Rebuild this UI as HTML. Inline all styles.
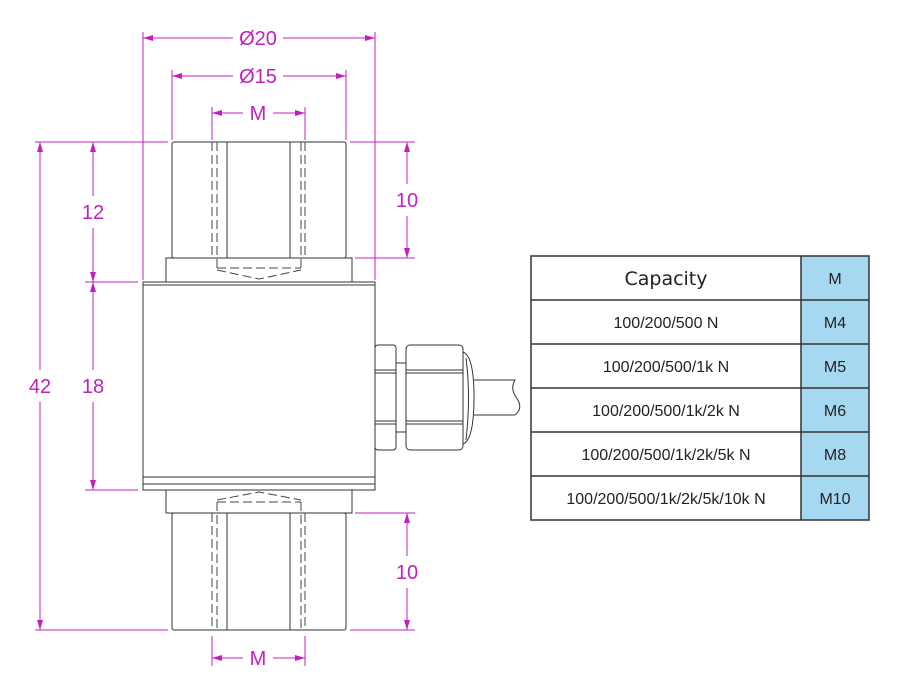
<!DOCTYPE html>
<html><head><meta charset="utf-8"><style>
html,body{margin:0;padding:0;background:#fff;width:900px;height:696px;overflow:hidden}
svg{display:block}
.m{stroke:#c020c0;stroke-width:1;fill:none}
.k{stroke:#333;stroke-width:1;fill:none}
.d{stroke:#444;stroke-width:1;fill:none;stroke-dasharray:9,4}
.t{font-family:"Liberation Sans",sans-serif;font-size:20px;fill:#c020c0;text-anchor:middle}
.tt{font-family:"Liberation Sans",sans-serif;font-size:16px;fill:#222;text-anchor:middle}
</style></head><body>
<svg width="900" height="696" viewBox="0 0 900 696">
<defs>
<marker id="a" markerWidth="10" markerHeight="6" refX="10" refY="3" orient="auto-start-reverse" markerUnits="userSpaceOnUse"><path d="M0,0 L10,3 L0,6z" fill="#c020c0"/></marker>
</defs>
<g class="m">
<line x1="143" y1="32" x2="143" y2="280"/><line x1="375" y1="32" x2="375" y2="280"/>
<line x1="172" y1="70" x2="172" y2="140"/><line x1="346" y1="70" x2="346" y2="140"/>
<line x1="212" y1="107" x2="212" y2="140"/><line x1="305" y1="107" x2="305" y2="140"/>
<line x1="35" y1="142" x2="168" y2="142"/><line x1="350" y1="142" x2="415" y2="142"/>
<line x1="85" y1="282" x2="138" y2="282"/><line x1="85" y1="490" x2="138" y2="490"/>
<line x1="355" y1="258" x2="415" y2="258"/>
<line x1="35" y1="630" x2="168" y2="630"/><line x1="350" y1="630" x2="415" y2="630"/>
<line x1="355" y1="513" x2="415" y2="513"/>
<line x1="212" y1="636" x2="212" y2="666"/><line x1="305" y1="636" x2="305" y2="666"/>
</g>
<g class="m">
<line x1="143" y1="38" x2="233" y2="38" marker-start="url(#a)"/><line x1="283" y1="38" x2="375" y2="38" marker-end="url(#a)"/>
<line x1="172" y1="76" x2="233" y2="76" marker-start="url(#a)"/><line x1="283" y1="76" x2="346" y2="76" marker-end="url(#a)"/>
<line x1="212" y1="113" x2="243" y2="113" marker-start="url(#a)"/><line x1="273" y1="113" x2="305" y2="113" marker-end="url(#a)"/>
<line x1="212" y1="658" x2="243" y2="658" marker-start="url(#a)"/><line x1="273" y1="658" x2="305" y2="658" marker-end="url(#a)"/>
<line x1="40" y1="142" x2="40" y2="370" marker-start="url(#a)"/><line x1="40" y1="402" x2="40" y2="630" marker-end="url(#a)"/>
<line x1="93" y1="142" x2="93" y2="196" marker-start="url(#a)"/><line x1="93" y1="228" x2="93" y2="282" marker-end="url(#a)"/>
<line x1="93" y1="282" x2="93" y2="370" marker-start="url(#a)"/><line x1="93" y1="402" x2="93" y2="490" marker-end="url(#a)"/>
<line x1="407" y1="142" x2="407" y2="184" marker-start="url(#a)"/><line x1="407" y1="216" x2="407" y2="258" marker-end="url(#a)"/>
<line x1="407" y1="513" x2="407" y2="556" marker-start="url(#a)"/><line x1="407" y1="588" x2="407" y2="630" marker-end="url(#a)"/>
</g>
<g class="t">
<text x="258" y="45">Ø20</text><text x="258" y="83">Ø15</text><text x="258" y="120">M</text>
<text x="258" y="665">M</text>
<text x="93" y="219">12</text><text x="93" y="393">18</text><text x="40" y="393">42</text>
<text x="407" y="207">10</text><text x="407" y="579">10</text>
</g>
<g class="k">
<rect x="172" y="142" width="174" height="116" rx="2"/>
<rect x="166" y="258" width="186" height="24"/>
<rect x="143" y="282" width="232" height="208"/>
<line x1="143" y1="477" x2="375" y2="477"/><line x1="143" y1="484" x2="375" y2="484"/>
<line x1="143" y1="285" x2="375" y2="285"/>
<rect x="166" y="490" width="186" height="23"/>
<rect x="172" y="513" width="174" height="117" rx="2"/>
<line x1="227" y1="142" x2="227" y2="258"/><line x1="290" y1="142" x2="290" y2="258"/>
<line x1="227" y1="513" x2="227" y2="630"/><line x1="290" y1="513" x2="290" y2="630"/>
</g>
<g class="d">
<line x1="212" y1="142" x2="212" y2="258"/><line x1="217" y1="142" x2="217" y2="268"/>
<line x1="301" y1="142" x2="301" y2="268"/><line x1="305" y1="142" x2="305" y2="258"/>
<line x1="217" y1="268" x2="301" y2="268"/>
<path d="M217,270 L259,279 L301,270"/>
<line x1="212" y1="513" x2="212" y2="630"/><line x1="217" y1="502" x2="217" y2="630"/>
<line x1="301" y1="502" x2="301" y2="630"/><line x1="305" y1="513" x2="305" y2="630"/>
<line x1="217" y1="502" x2="301" y2="502"/>
<path d="M217,500 L259,492 L301,500"/>
</g>
<g class="k">
<rect x="375" y="345" width="21" height="105" rx="3"/>
<line x1="375" y1="370" x2="396" y2="370"/><line x1="375" y1="373" x2="396" y2="373"/>
<line x1="375" y1="421" x2="396" y2="421"/><line x1="375" y1="424" x2="396" y2="424"/>
<rect x="396" y="363" width="10" height="69"/>
<rect x="406" y="345" width="57" height="105" rx="4"/>
<line x1="406" y1="370" x2="463" y2="370"/><line x1="406" y1="373" x2="463" y2="373"/>
<line x1="406" y1="421" x2="463" y2="421"/><line x1="406" y1="424" x2="463" y2="424"/>
<path d="M463,352 Q474,356 474,397 Q474,440 463,444 Z"/>
<path d="M466,358 Q471,397 466,440"/>
<path d="M474,380 L515,380 Q510,388 516,397 Q524,408 515,415 L474,415"/>
</g>
<rect x="801" y="256" width="68" height="264" fill="#a6d8f2"/>
<g stroke="#333" stroke-width="1.5" fill="none">
<rect x="531" y="256" width="338" height="264"/>
<line x1="801" y1="256" x2="801" y2="520"/>
<line x1="531" y1="300" x2="869" y2="300"/><line x1="531" y1="344" x2="869" y2="344"/>
<line x1="531" y1="388" x2="869" y2="388"/><line x1="531" y1="432" x2="869" y2="432"/>
<line x1="531" y1="476" x2="869" y2="476"/>
</g>
<g class="tt">
<text x="666" y="285" style="font-size:19px;font-family:'DejaVu Sans',sans-serif">Capacity</text>
<text x="835" y="284">M</text>
<text x="666" y="328">100/200/500 N</text><text x="835" y="328">M4</text>
<text x="666" y="372">100/200/500/1k N</text><text x="835" y="372">M5</text>
<text x="666" y="416">100/200/500/1k/2k N</text><text x="835" y="416">M6</text>
<text x="666" y="460">100/200/500/1k/2k/5k N</text><text x="835" y="460">M8</text>
<text x="666" y="504">100/200/500/1k/2k/5k/10k N</text><text x="835" y="504">M10</text>
</g>
</svg>
</body></html>
